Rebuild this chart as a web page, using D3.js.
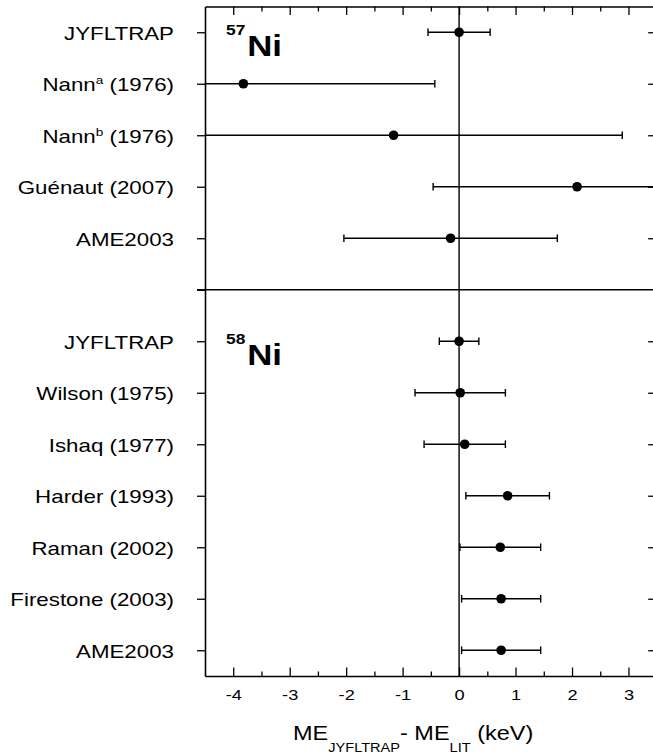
<!DOCTYPE html>
<html>
<head>
<meta charset="utf-8">
<script src="https://cdn.jsdelivr.net/npm/d3@7"></script>
<style>
  body { margin: 0; background: #fff; }
  text { font-family: "Liberation Sans", Arial, Helvetica, sans-serif; fill: #000; }
</style>
</head>
<body>
<div id="container"></div>
<script>
/* DATA */
const ni57Labels = ["JYFLTRAP", "Nann^a (1976)", "Nann^b (1976)", "Guénaut (2007)", "AME2003"];
const ni57Values = [0, -3.82, -1.16, 2.09, -0.15];
const ni57Errors = [0.55, 3.39, 4.05, 2.55, 1.89];

const ni58Labels = ["JYFLTRAP", "Wilson (1975)", "Ishaq (1977)", "Harder (1993)", "Raman (2002)", "Firestone (2003)", "AME2003"];
const ni58Values = [0, 0.02, 0.1, 0.86, 0.73, 0.745, 0.745];
const ni58Errors = [0.35, 0.8, 0.72, 0.74, 0.715, 0.70, 0.70];

const xMajorTicks = [-4, -3, -2, -1, 0, 1, 2, 3];
const xMinorTicks = [-3.5, -2.5, -1.5, -0.5, 0.5, 1.5, 2.5];

/* CONSTANTS */
const width = 653,
  height = 755,
  plot = { left: 205, right: 656.7, top: 6.5, bottom: 676 };

// one row per measurement, with an empty row between the two isotopes
const sepRow = ni57Labels.length;
const rows = [
  ...ni57Labels.map((label, i) => ({ label, value: ni57Values[i], err: ni57Errors[i], row: i })),
  ...ni58Labels.map((label, i) => ({ label, value: ni58Values[i], err: ni58Errors[i], row: sepRow + 1 + i }))
];
const nRows = rows.length + 1;

const x = d3.scaleLinear().domain([-4.5, 3.5]).range([plot.left, plot.right]);
const y = d3.scaleLinear().domain([-0.5, nRows - 0.5]).range([plot.top, plot.bottom]);

const svg = d3.select("#container")
  .append("svg")
  .attr("width", width)
  .attr("height", height);

svg.append("clipPath").attr("id", "plot-clip")
  .append("rect")
  .attr("x", plot.left).attr("y", plot.top)
  .attr("width", plot.right - plot.left).attr("height", plot.bottom - plot.top);

// ZERO LINE
svg.append("line")
  .attr("x1", x(0)).attr("x2", x(0))
  .attr("y1", plot.top).attr("y2", plot.bottom)
  .attr("stroke", "#000").attr("stroke-width", 1.4);

// SEPARATOR BETWEEN PANELS
svg.append("line")
  .attr("x1", plot.left - 8).attr("x2", width)
  .attr("y1", y(sepRow)).attr("y2", y(sepRow))
  .attr("stroke", "#000").attr("stroke-width", 1.5);

// ERROR BARS
const bars = svg.append("g").attr("clip-path", "url(#plot-clip)")
  .selectAll("g.bar")
  .data(rows)
  .join("g")
  .attr("class", "bar")
  .attr("stroke", "#000")
  .attr("stroke-width", 1.4);

bars.append("line")
  .attr("x1", d => x(d.value - d.err))
  .attr("x2", d => x(d.value + d.err))
  .attr("y1", d => y(d.row)).attr("y2", d => y(d.row));

bars.selectAll("line.cap")
  .data(d => [d.value - d.err, d.value + d.err].map(v => ({ v, row: d.row })))
  .join("line")
  .attr("class", "cap")
  .attr("x1", d => x(d.v)).attr("x2", d => x(d.v))
  .attr("y1", d => y(d.row) - 3.8).attr("y2", d => y(d.row) + 3.8);

bars.append("circle")
  .attr("cx", d => x(d.value))
  .attr("cy", d => y(d.row))
  .attr("r", 4.8)
  .attr("stroke", "none")
  .attr("fill", "#000");

// AXES
const axisStyle = g => {
  g.select(".domain").attr("stroke-width", 1.6);
  g.selectAll(".tick line").attr("stroke-width", 1.3);
};

// plain hyphen for negative numbers, like the original
svg.append("g")
  .attr("transform", `translate(0,${plot.bottom})`)
  .call(d3.axisBottom(x).tickValues(xMajorTicks).tickSize(-8.5).tickSizeOuter(0).tickPadding(14)
    .tickFormat(d => String(d)))
  .call(axisStyle)
  .call(g => g.selectAll(".tick text")
    .attr("font-size", 14)
    .attr("transform", "scale(1.3,1)"));
svg.selectAll(".tick text").attr("font-family", null);

svg.append("g")
  .attr("transform", `translate(0,${plot.bottom})`)
  .call(d3.axisBottom(x).tickValues(xMinorTicks).tickSize(-4.5).tickSizeOuter(0).tickFormat(""))
  .call(axisStyle)
  .call(g => g.select(".domain").remove());

svg.append("g")
  .attr("transform", `translate(0,${plot.top})`)
  .call(d3.axisTop(x).tickValues(xMajorTicks).tickSize(-8.5).tickSizeOuter(0).tickFormat(""))
  .call(axisStyle);

svg.append("g")
  .attr("transform", `translate(0,${plot.top})`)
  .call(d3.axisTop(x).tickValues(xMinorTicks).tickSize(-5).tickSizeOuter(0).tickFormat(""))
  .call(axisStyle)
  .call(g => g.select(".domain").remove());

svg.append("g")
  .attr("transform", `translate(${plot.left},0)`)
  .call(d3.axisLeft(y).tickValues(d3.range(0, nRows)).tickSize(8).tickSizeOuter(0).tickFormat(""))
  .call(axisStyle);

svg.append("g")
  .attr("transform", `translate(${plot.right},0)`)
  .call(d3.axisRight(y).tickValues(rows.map(d => d.row)).tickSize(-8.5).tickSizeOuter(0).tickFormat(""))
  .call(axisStyle);

// ROW LABELS (with ^ marking a superscript letter)
rows.forEach(d => {
  const t = svg.append("text")
    .attr("text-anchor", "end")
    .attr("font-size", 18)
    .attr("transform", `translate(174,${y(d.row) + 7.3}) scale(1.24,1)`);
  const m = d.label.match(/^(.*)\^(\w)(.*)$/);
  if (m) {
    t.append("tspan").text(m[1]);
    t.append("tspan").attr("font-size", 11).attr("dy", -7).text(m[2]);
    t.append("tspan").attr("dy", 7).text(m[3]);
  } else {
    t.text(d.label);
  }
});

// ISOTOPE LABELS
[["57", 0], ["58", sepRow + 1]].forEach(([mass, row]) => {
  const t = svg.append("text")
    .attr("font-weight", "bold")
    .attr("transform", `translate(226,${y(row) + 24}) scale(1.2,1)`);
  t.append("tspan").attr("font-size", 14.5).attr("dy", -21).text(mass);
  t.append("tspan").attr("font-size", 29).attr("dy", 21).attr("dx", 1.5).text("Ni");
});

// X AXIS TITLE
const title = svg.append("text")
  .attr("transform", "translate(293,740) scale(1.12,1)")
  .attr("font-size", 21);
title.append("tspan").text("ME");
title.append("tspan").attr("font-size", 13).attr("dy", 12).text("JYFLTRAP");
title.append("tspan").attr("dy", -12).text("- ME");
title.append("tspan").attr("font-size", 13).attr("dy", 12).text("LIT");
title.append("tspan").attr("dy", -12).text(" (keV)");
</script>
</body>
</html>
